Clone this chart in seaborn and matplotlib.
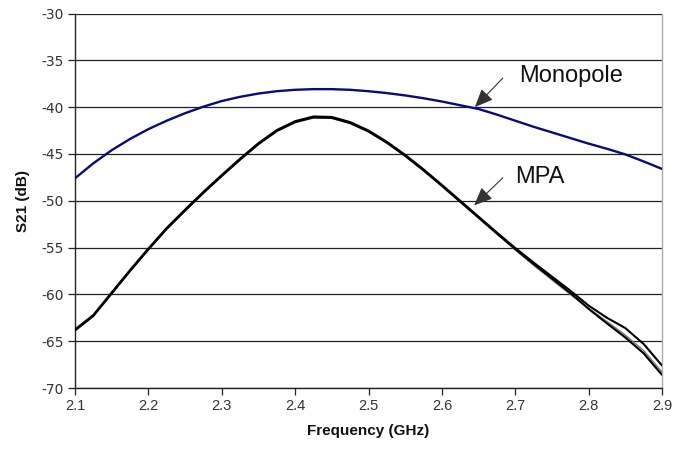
import numpy as np
import pandas as pd
import matplotlib
matplotlib.use("Agg")
import matplotlib.pyplot as plt
import seaborn as sns

# ---- data ----
freq = [2.100, 2.125, 2.150, 2.175, 2.200, 2.225, 2.250, 2.275, 2.300, 2.325,
        2.350, 2.375, 2.400, 2.425, 2.450, 2.475, 2.500, 2.525, 2.550, 2.575,
        2.600, 2.625, 2.650, 2.675, 2.700, 2.725, 2.750, 2.775, 2.800, 2.825,
        2.850, 2.875, 2.900]

monopole = [-47.6, -46.0, -44.6, -43.4, -42.35, -41.45, -40.65, -39.95, -39.35, -38.9,
            -38.55, -38.3, -38.15, -38.08, -38.08, -38.15, -38.3, -38.5, -38.75, -39.05,
            -39.4, -39.8, -40.2, -40.8, -41.45, -42.1, -42.7, -43.3, -43.9, -44.45,
            -45.05, -45.8, -46.6]

mpa_a = [-63.85, -62.3, -59.9, -57.5, -55.2, -53.0, -51.05, -49.15, -47.35, -45.6,
         -43.95, -42.55, -41.6, -41.1, -41.15, -41.7, -42.6, -43.8, -45.2, -46.75,
         -48.4, -50.1, -51.8, -53.5, -55.15, -56.75, -58.3, -59.85, -61.55, -63.1,
         -64.6, -66.3, -68.6]

mpa_b = [-63.75, -62.2, -59.8, -57.4, -55.1, -52.9, -50.95, -49.05, -47.25, -45.5,
         -43.85, -42.45, -41.5, -41.0, -41.05, -41.6, -42.5, -43.7, -45.1, -46.65,
         -48.3, -50.0, -51.7, -53.4, -55.05, -56.6, -58.1, -59.6, -61.2, -62.5,
         -63.6, -65.3, -67.6]

mpa_c = [-63.9, -62.35, -59.95, -57.55, -55.25, -53.05, -51.1, -49.2, -47.4, -45.65,
         -44.0, -42.6, -41.65, -41.15, -41.2, -41.75, -42.65, -43.85, -45.25, -46.8,
         -48.45, -50.15, -51.85, -53.55, -55.25, -56.9, -58.45, -60.0, -61.5, -62.9,
         -64.35, -66.0, -68.3]

x_ticks = [2.1, 2.2, 2.3, 2.4, 2.5, 2.6, 2.7, 2.8, 2.9]
y_ticks = [-70, -65, -60, -55, -50, -45, -40, -35, -30]

sns.set_style("white")
plt.rcParams['font.family'] = ['Liberation Sans', 'DejaVu Sans']
plt.rcParams['lines.solid_joinstyle'] = 'round'
plt.rcParams['lines.solid_capstyle'] = 'round'

fig = plt.figure(figsize=(6.9, 4.5), dpi=100)
ax = fig.add_axes([75/690, 1 - 388/450, (662 - 75)/690, (388 - 13.5)/450])

for yv in y_ticks:
    ax.axhline(yv, color='#222222', lw=0.9, zorder=1)

df_mono = pd.DataFrame({"f": freq, "s21": monopole})
sns.lineplot(data=df_mono, x="f", y="s21", ax=ax, color='#0a0a78', lw=1.7,
             sort=False, estimator=None, zorder=3)

df_c = pd.DataFrame({"f": freq, "s21": mpa_c})
sns.lineplot(data=df_c, x="f", y="s21", ax=ax, color='#777777', lw=1.0,
             sort=False, estimator=None, zorder=3)
for series in (mpa_a, mpa_b):
    d = pd.DataFrame({"f": freq, "s21": series})
    sns.lineplot(data=d, x="f", y="s21", ax=ax, color='black', lw=1.5,
                 sort=False, estimator=None, zorder=4)

ax.set_xlim(2.1, 2.9)
ax.set_ylim(-70, -30)
ax.set_xticks(x_ticks)
ax.set_xticklabels([f"{v:.1f}" for v in x_ticks])
ax.set_yticks(y_ticks)
ax.set_yticklabels([f"{v:d}" for v in y_ticks], family='DejaVu Sans', fontsize=10)
ax.tick_params(axis='both', direction='out', length=5, width=0.9, color='#222222',
               labelcolor='#333333', pad=3, left=True, bottom=True)
ax.tick_params(axis='x', labelsize=10.5)

ax.spines['left'].set_color('#222222')
ax.spines['bottom'].set_color('#222222')
ax.spines['top'].set_visible(False)
ax.spines['right'].set_color('#aaaaaa')
for s in ('left', 'bottom', 'right'):
    ax.spines[s].set_linewidth(1.0)

ax.set_xlabel("Frequency (GHz)", fontsize=11, fontweight='bold', color='#111111', labelpad=8)
ax.set_ylabel("S21 (dB)", fontsize=11, fontweight='bold', color='#111111', labelpad=8)

arrow = dict(arrowstyle='-|>,head_length=0.7,head_width=0.3', color='#333333', lw=0.8,
             mutation_scale=16, shrinkA=0, shrinkB=0)
ax.annotate("", xy=(2.645, -40.0), xytext=(2.683, -36.9), arrowprops=arrow, zorder=6)
ax.annotate("", xy=(2.644, -50.5), xytext=(2.683, -47.55), arrowprops=arrow, zorder=6)
ax.text(2.776, -36.7, "Monopole", fontsize=17, ha='center', va='center', color='#111111')
ax.text(2.734, -47.45, "MPA", fontsize=17, ha='center', va='center', color='#111111')

fig.savefig("out.png", dpi=100)
